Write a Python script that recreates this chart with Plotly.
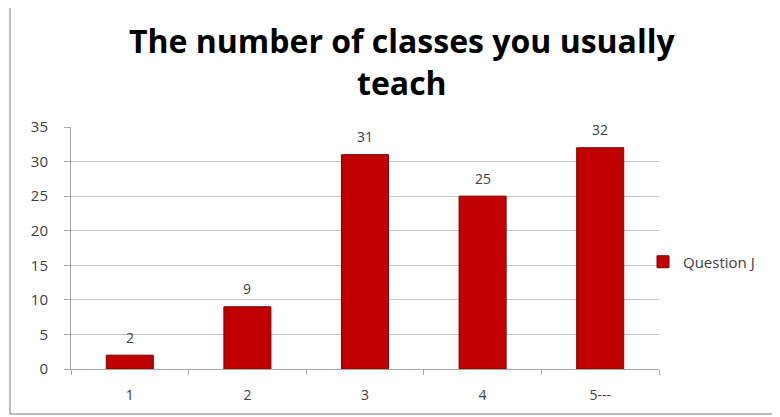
import plotly.graph_objects as go

categories = ["1", "2", "3", "4", "5---"]
values = [2, 9, 31, 25, 32]
series_name = "Question J"
title_lines = ["The number of classes you usually", "teach"]

OFF = 8  # page body margin
W, H = 772, 409
L = 71 - OFF
T = 127 - OFF
R = W - (659 - OFF)
B = H - (369 - OFF)
pw, ph = W - L - R, H - T - B

def px(x):
    return (x - OFF - L) / pw

def py(y):
    return (H - B - (y - OFF)) / ph

FONT = "Open Sans"
GRAY = "#404040"

fig = go.Figure()
fig.add_trace(go.Bar(
    x=categories, y=values, name=series_name,
    marker=dict(color="#C00000", line=dict(color="#7F0000", width=1)),
))

# value labels: category axis positions are the category indices
label_annotations = [
    dict(x=i, y=v, xref="x", yref="y", text=str(v), showarrow=False,
         yanchor="middle", yshift=18,
         font=dict(family=FONT, size=14, color=GRAY))
    for i, v in enumerate(values)
]

fig.update_layout(
    width=W, height=H,
    margin=dict(l=L, r=R, t=T, b=B),
    paper_bgcolor="white", plot_bgcolor="white",
    bargap=0.6,
    showlegend=True,
    legend=dict(x=px(643), y=py(262), xanchor="left", yanchor="middle",
                font=dict(family=FONT, size=15, color=GRAY),
                bgcolor="rgba(0,0,0,0)", itemwidth=30, tracegroupgap=0),
    xaxis=dict(type="category", showline=True, linecolor="#A6A6A6", linewidth=1,
               ticks="outside", tickcolor="#A6A6A6", ticklen=5,
               tickson="boundaries", ticklabelstandoff=13,
               tickfont=dict(family=FONT, size=14, color=GRAY),
               showgrid=False),
    yaxis=dict(range=[0, 35], dtick=5, showline=True, linecolor="#A6A6A6",
               ticks="outside", tickcolor="#A6A6A6", ticklen=6,
               ticklabelstandoff=13,
               gridcolor="#C4C4C4", gridwidth=1,
               tickfont=dict(family=FONT, size=15, color=GRAY),
               zeroline=False),
    annotations=[dict(text="<br>".join("<b>%s</b>" % s for s in title_lines),
                      xref="paper", yref="paper",
                      x=px(402), y=py(62), xanchor="center", yanchor="middle",
                      showarrow=False,
                      font=dict(family=FONT, size=32, color="#000000"),
                      )] + label_annotations,
    shapes=[dict(type="rect", xref="paper", yref="paper",
                 x0=px(10), x1=px(781), y0=py(414), y1=py(5),
                 line=dict(color="#A6A6A6", width=1.5), layer="below")],
)

fig.write_html("out.html")
